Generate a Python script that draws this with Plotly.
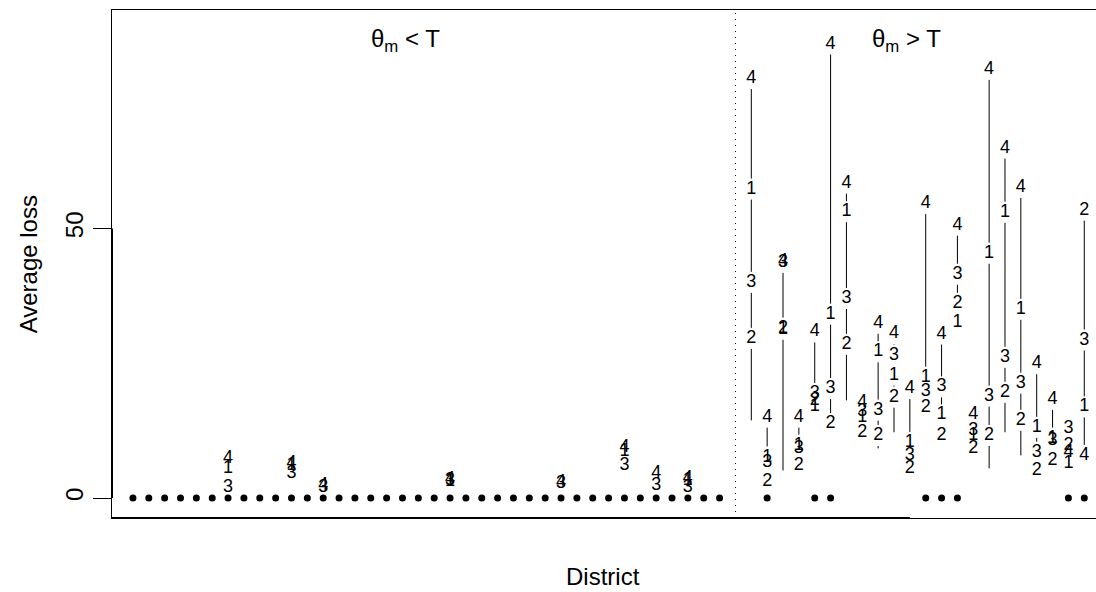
import plotly.graph_objects as go

# ---------------- data ----------------
districts = [7, 11, 13, 21, 28, 32, 34, 36,
             40, 41, 42, 43, 44, 45, 46, 47, 48, 49, 50,
             51, 52, 53, 54, 55, 56, 57, 58, 59, 60, 61]
loss_1 = [5.5, 6.1, None, 3.0, None, 8.6, None, 3.3,
          57.3, 7.6, 31.3, 9.8, 17.0, 34.1, 53.1, 15.0, 27.1, 22.8, 10.3,
          22.4, 15.4, 32.6, 11.6, 45.4, 53.0, 35.0, 13.1, 11.1, 6.4, 16.9]
loss_2 = [None, None, None, None, None, None, None, None,
          29.6, 3.0, 31.5, 6.1, 18.0, 13.8, 28.5, 12.2, 11.6, 18.7, 5.5,
          16.7, 11.6, 36.1, 9.2, 11.6, 19.6, 14.4, 5.1, 7.0, 9.8, 53.4]
loss_3 = [2.0, 4.5, 2.0, 3.2, 2.6, 6.1, 2.4, 2.0,
          40.0, 6.6, 43.7, 9.2, 19.4, 20.3, 37.0, 16.1, 16.3, 26.5, 7.9,
          19.8, 20.6, 41.5, 12.6, 18.9, 26.1, 21.3, 8.5, 10.7, 12.9, 29.3]
loss_4 = [7.3, 6.4, 2.3, 3.5, 2.8, 9.3, 4.5, 3.6,
          77.8, 15.0, 43.9, 15.0, 30.8, 84.2, 58.4, 17.8, 32.4, 30.5, 20.3,
          54.6, 30.4, 50.6, 15.4, 79.5, 64.9, 57.6, 24.9, 18.3, 8.5, 7.9]
# lower end of the connecting line where it reaches an unlabelled value
line_low = [None, None, None, None, None, None, None, None,
            14.4, None, 5.1, None, None, None, 18.1, None, 9.2, 12.2, None,
            None, None, None, None, 5.5, 12.2, 7.9, None, None, None, None]
zero_districts = list(range(1, 39)) + [41, 44, 45, 51, 52, 53, 60, 61]
zero_values = [0] * len(zero_districts)
method_labels = ["1", "2", "3", "4"]
split_district = 39
group_labels = ["θ<sub>m</sub> &lt; T", "θ<sub>m</sub> &gt; T"]
group_label_x = [18.2, 49.8]
group_label_y = [84.9, 84.9]
y_ticks = [0, 50]

FONT = "Liberation Sans, Arial, Helvetica, sans-serif"
GAP = 1.95  # gap (data units) left around each label by the connecting line

fig = go.Figure()

# connecting lines with gaps around labels (R type="b" style)
seg_x, seg_y = [], []
series = [loss_1, loss_2, loss_3, loss_4]
for j, d in enumerate(districts):
    pts = [(s[j], True) for s in series if s[j] is not None]
    if line_low[j] is not None:
        pts.append((line_low[j], False))
    pts.sort(key=lambda p: p[0])
    for (a, la), (b, lb) in zip(pts[:-1], pts[1:]):
        s0 = a + (GAP if la else 0)
        s1 = b - (GAP if lb else 0)
        if s1 > s0:
            seg_x += [d, d, None]
            seg_y += [s0, s1, None]
fig.add_trace(go.Scatter(x=seg_x, y=seg_y, mode="lines",
                         line=dict(color="black", width=1),
                         hoverinfo="skip", showlegend=False))

# zero dots
fig.add_trace(go.Scatter(x=zero_districts, y=zero_values, mode="markers",
                         marker=dict(color="black", size=7),
                         showlegend=False))

# method labels
for lab, s in zip(method_labels, series):
    xs = [d for d, v in zip(districts, s) if v is not None]
    ys = [v for v in s if v is not None]
    fig.add_trace(go.Scatter(x=xs, y=ys, mode="text", text=[lab] * len(xs),
                             textposition="middle center",
                             textfont=dict(family=FONT, size=18, color="black"),
                             showlegend=False, cliponaxis=False))

# dotted separator
fig.add_shape(type="line", xref="x", yref="paper", x0=split_district,
              x1=split_district, y0=0, y1=1,
              line=dict(color="black", width=1, dash="1px,5px"))

# axis line segments (thicker parts over the box)
fig.add_shape(type="line", xref="paper", yref="y", x0=0, x1=0, y0=0, y1=50,
              line=dict(color="black", width=2))
fig.add_shape(type="line", xref="x", yref="paper", x0=-0.32, x1=50, y0=0, y1=0,
              line=dict(color="black", width=2))

for t, gx, gy in zip(group_labels, group_label_x, group_label_y):
    fig.add_annotation(x=gx, y=gy, xref="x", yref="y", text=t, showarrow=False,
                       xanchor="center", yanchor="middle",
                       font=dict(family=FONT, size=24, color="black"))

fig.add_annotation(x=0.499, y=-0.116, xref="paper", yref="paper", text="District",
                   xanchor="center", yanchor="middle",
                   showarrow=False, font=dict(family=FONT, size=24, color="black"))
fig.add_annotation(x=-0.085, y=0.5, xref="paper", yref="paper", text="Average loss",
                   xanchor="center", yanchor="middle",
                   textangle=-90, showarrow=False,
                   font=dict(family=FONT, size=24, color="black"))

fig.update_layout(
    width=1096, height=592,
    margin=dict(l=112, r=0, t=10, b=74),
    paper_bgcolor="white", plot_bgcolor="white",
    font=dict(family=FONT, size=24, color="black"),
    xaxis=dict(range=[-0.32, 61.74], showgrid=False, zeroline=False,
               showticklabels=False, ticks="", showline=True, mirror=True,
               linecolor="black", linewidth=1),
    yaxis=dict(range=[-3.71, 90.51], showgrid=False, zeroline=False,
               tickvals=y_ticks, ticktext=[str(v) for v in y_ticks],
               ticks="outside", ticklen=18, tickwidth=1, tickcolor="black",
               tickangle=-90, tickfont=dict(family=FONT, size=24),
               showline=True, mirror=False, linecolor="black", linewidth=1),
)

fig.write_html("out.html")
